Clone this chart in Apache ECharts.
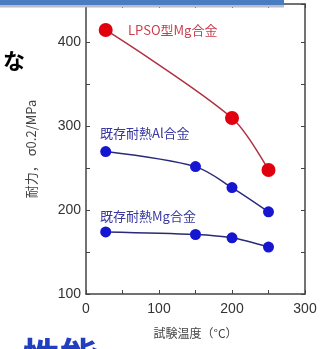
<!DOCTYPE html>
<html><head><meta charset="utf-8">
<script src="https://cdn.jsdelivr.net/npm/echarts@6/dist/echarts.min.js"></script>
<style>html,body{margin:0;padding:0;background:#fff}#c{width:332px;height:349px}</style>
</head><body><div id="c"></div>
<script>
var temps = [27, 150, 200, 250];
var lpsoTemps = [27, 200, 250];
var lpsoMg = [415, 310, 248];
var heatAl = [270, 252, 227, 198];
var heatMg = [174, 171, 167, 156];
var xTicks = [0, 100, 200, 300];
var yTicks = [100, 200, 300, 400];
var names = ['LPSO型Mg合金', '既存耐熱Al合金', '既存耐熱Mg合金'];

function pairs(xs, ys){ return xs.map(function(x,i){return [x, ys[i]];}); }

var chart = echarts.init(document.getElementById('c'), null, {renderer:'canvas'});
var axisCol = '#444';
var fontJP = '"Noto Sans CJK JP", sans-serif';
var lab = {color:'#333', fontSize:14, fontFamily:'"Liberation Sans", Arial, sans-serif'};
function xAx(pos, show){
  return {type:'value', position:pos, min:0, max:300, interval:50,
    axisLine:{show:true, onZero:false, lineStyle:{color:axisCol, width:1.5}},
    axisTick:{show:true, inside:true, length:4, lineStyle:{color:axisCol}},
    splitLine:{show:false},
    axisLabel:{show:show, margin:8, color:lab.color, fontSize:lab.fontSize, fontFamily:lab.fontFamily,
      formatter:function(v){return xTicks.indexOf(v)>=0 ? String(v) : '';}}};
}
function yAx(pos, show){
  return {type:'value', position:pos, min:100, max:446, interval:50,
    axisLine:{show:true, onZero:false, lineStyle:{color:axisCol, width:1.5}},
    axisTick:{show:true, inside:true, length:4, lineStyle:{color:axisCol}},
    splitLine:{show:false},
    axisLabel:{show:show, margin:5, color:lab.color, fontSize:lab.fontSize, fontFamily:lab.fontFamily,
      showMaxLabel:false,
      formatter:function(v){return yTicks.indexOf(v)>=0 ? String(v) : '';}}};
}
var xa = xAx('bottom', true);
xa.name = '試験温度（°C）'; xa.nameLocation='middle'; xa.nameGap=33;
xa.nameTextStyle = {color:'#444', fontSize:12, fontFamily:fontJP};
var ya = yAx('left', true);
ya.name = '耐力， σ0.2/MPa'; ya.nameLocation='middle'; ya.nameGap=48;
ya.nameTextStyle = {color:'#444', fontSize:13, fontFamily:fontJP};
var xt = xAx('top', false); var yr = yAx('right', false);

chart.setOption({
  animation:false,
  backgroundColor:'#fff',
  grid:{left:86, right:27, top:4, bottom:55},
  xAxis:[xa, xt],
  yAxis:[ya, yr],
  series:[
    {type:'line', data:pairs(lpsoTemps, lpsoMg), smooth:0.3, symbol:'circle', symbolSize:14,
      lineStyle:{color:'#b03040', width:1.5}, itemStyle:{color:'#e0000e'}},
    {type:'line', data:pairs(temps, heatAl), smooth:0.3, symbol:'circle', symbolSize:11,
      lineStyle:{color:'#2a2a7a', width:1.5}, itemStyle:{color:'#1616d0'}},
    {type:'line', data:pairs(temps, heatMg), smooth:0.3, symbol:'circle', symbolSize:11,
      lineStyle:{color:'#2a2a7a', width:1.5}, itemStyle:{color:'#1616d0'}}
  ],
  graphic:[
    {type:'rect', left:0, top:0, shape:{width:284, height:5}, style:{fill:'#4a7cc0'}, z:100},
    {type:'rect', left:0, top:5, shape:{width:284, height:2.5}, style:{fill:'#b9bcc8'}, z:100},
    {type:'text', left:3, top:50, style:{text:'な', fill:'#000', font:'bold 22px "Noto Sans CJK JP"'}},
    {type:'text', left:128, top:24, style:{text:names[0], fill:'#cc3c4c', font:'13px "Noto Sans CJK JP"'}},
    {type:'text', left:100, top:127, style:{text:names[1], fill:'#3838a0', font:'13px "Noto Sans CJK JP"'}},
    {type:'text', left:100, top:210, style:{text:names[2], fill:'#3838a0', font:'13px "Noto Sans CJK JP"'}},
    {type:'text', left:22, top:337, style:{text:'性能', fill:'#2040c0', font:'bold 38px "Noto Sans CJK JP"'}}
  ]
});
</script></body></html>
